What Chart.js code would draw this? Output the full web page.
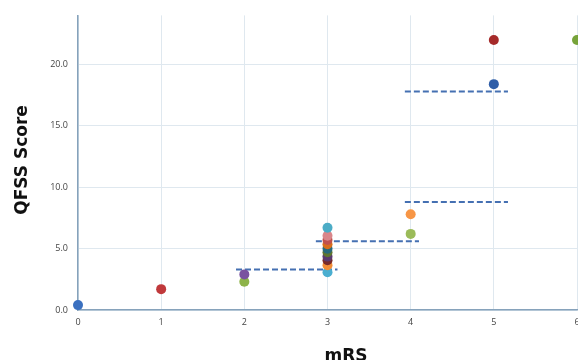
<!DOCTYPE html>
<html>
<head>
<meta charset="utf-8">
<script src="https://cdn.jsdelivr.net/npm/chart.js@4"></script>
<style>
    body { margin: 0; background: #fff; }
    #wrap { width: 578px; height: 360px; }
</style>
</head>
<body>
<div id="wrap"><canvas id="chart"></canvas></div>
<script>
// Data
const mrs = [0, 1, 2, 2, 3, 3, 3, 3, 3, 3, 3, 3, 3, 3, 4, 4, 5, 5, 6];
const qfss = [0.4, 1.7, 2.3, 2.9, 3.07, 3.65, 4.05, 4.35, 4.7, 5.0, 5.35, 5.7, 6.05, 6.7, 6.2, 7.8, 18.4, 22.0, 22.0];
const pointColors = [
    '#3a70c0', '#c0393b', '#8db34a', '#7a52a0', '#4aaed0', '#f28c36', '#7a2a2a',
    '#5a3a70', '#5f7530', '#276a7c', '#d86d1c', '#c0504d', '#d9868a', '#4bacc6',
    '#9bbb59', '#f79646', '#2f5ea8', '#a52a2a', '#77a33a'
];

// Dashed median lines: [xStart, xEnd, y]
const medianStartX = [1.9, 2.86, 3.93, 3.93];
const medianEndX = [3.12, 4.1, 5.17, 5.17];
const medianY = [3.3, 5.6, 8.8, 17.8];

const yTicks = [0, 5, 10, 15, 20];

const scatterData = mrs.map((x, i) => ({ x: x, y: qfss[i] }));

const medianSets = medianY.map((y, i) => ({
    type: 'line',
    data: [{ x: medianStartX[i], y: y }, { x: medianEndX[i], y: y }],
    borderColor: '#4570b2',
    borderWidth: 2,
    borderDash: [6, 3],
    pointRadius: 0,
    fill: false
}));

// Axis titles drawn at fixed spots
const titlePlugin = {
    id: 'axisTitles',
    afterDraw(chart) {
        const ctx = chart.ctx;
        ctx.save();
        ctx.fillStyle = '#111';
        ctx.font = 'bold 17px "DejaVu Sans"';
        ctx.textAlign = 'center';
        ctx.textBaseline = 'alphabetic';
        ctx.fillText('mRS', 346, 361);
        ctx.translate(23, 160);
        ctx.rotate(-Math.PI / 2);
        ctx.textBaseline = 'middle';
        ctx.fillText('QFSS Score', 0, 0);
        ctx.restore();
    }
};

new Chart(document.getElementById('chart').getContext('2d'), {
    type: 'scatter',
    data: {
        datasets: [{
            data: scatterData,
            backgroundColor: pointColors,
            borderWidth: 0,
            pointRadius: 5,
            pointHoverRadius: 5,
            clip: false
        }, ...medianSets]
    },
    options: {
        responsive: true,
        maintainAspectRatio: false,
        animation: false,
        layout: {
            autoPadding: false,
            padding: { left: 0, top: 14, right: 1, bottom: 0 }
        },
        plugins: {
            legend: { display: false },
            tooltip: { enabled: false }
        },
        scales: {
            x: {
                type: 'linear',
                min: 0,
                max: 6,
                ticks: {
                    stepSize: 1,
                    padding: 7,
                    color: '#444',
                    font: { family: '"Open Sans"', size: 9 }
                },
                grid: { color: '#dfe8ef', drawTicks: false },
                border: { color: '#86a2bb', width: 1.5 },
                afterFit(scale) {
                    scale.height = 50;
                    scale.paddingLeft = 0;
                    scale.paddingRight = 0;
                }
            },
            y: {
                type: 'linear',
                min: 0,
                max: 24,
                ticks: {
                    padding: 10,
                    color: '#444',
                    font: { family: '"Open Sans"', size: 9 },
                    callback: v => v.toFixed(1)
                },
                afterBuildTicks(scale) {
                    scale.ticks = yTicks.map(v => ({ value: v }));
                },
                grid: { color: '#dfe8ef', drawTicks: false },
                border: { color: '#86a2bb', width: 1.5 },
                afterFit(scale) {
                    scale.width = 78;
                }
            }
        }
    },
    plugins: [titlePlugin]
});
</script>
</body>
</html>
